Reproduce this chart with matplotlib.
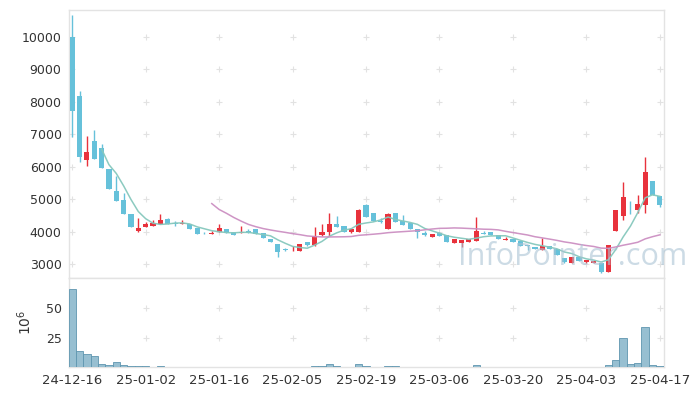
import numpy as np
import pandas as pd
import matplotlib
matplotlib.use("Agg")
import matplotlib.pyplot as plt

# ---- data ----
opens = [10000, 8180, 6190, 6800, 6580, 5930, 5250, 4975, 4550, 4030,
         4150, 4170, 4225, 4390, 4275, 4220, 4225, 4110, 3930, 3925,
         3990, 4080, 4000, 3945, 4020, 4070, 3945, 3770, 3617, 3450,
         3420, 3410, 3680, 3570, 3900, 3985, 4235, 4170, 4000, 4000,
         4820, 4565, 4340, 4080, 4565, 4310, 4270, 4080, 3965, 3830,
         3945, 3895, 3640, 3640, 3690, 3720, 3970, 3990, 3880, 3730,
         3760, 3710, 3590, 3535, 3430, 3555, 3465, 3195, 3045, 3225,
         3070, 3020, 3040, 2760, 4020, 4480, 4800, 4665, 4820, 5560,
         5100]
highs = [10680, 8340, 6930, 7135, 6700, 5930, 5720, 5190, 4550, 4420,
         4300, 4360, 4540, 4420, 4340, 4360, 4225, 4110, 3990, 4030,
         4235, 4080, 4000, 4180, 4080, 4070, 3945, 3770, 3617, 3480,
         3540, 3617, 3680, 4130, 4220, 4565, 4480, 4170, 4090, 4700,
         4850, 4565, 4415, 4560, 4565, 4510, 4270, 4080, 4010, 3925,
         3990, 3895, 3760, 3740, 3770, 4440, 4020, 3990, 3880, 3820,
         3760, 3710, 3590, 3535, 3800, 3555, 3465, 3195, 3225, 3225,
         3135, 3100, 3040, 3575, 4665, 5520, 4930, 5130, 6310, 5560,
         5100]
lows = [6900, 6150, 6030, 6250, 5970, 5320, 4950, 4550, 4150, 4000,
        4150, 4170, 4225, 4225, 4170, 4220, 4090, 3920, 3910, 3925,
        3985, 3945, 3880, 3945, 3945, 3920, 3790, 3680, 3225, 3390,
        3410, 3410, 3565, 3565, 3850, 3850, 4140, 3985, 3940, 4000,
        4440, 4310, 4260, 4080, 4290, 4210, 4085, 3795, 3870, 3830,
        3850, 3690, 3640, 3515, 3690, 3720, 3910, 3880, 3760, 3730,
        3680, 3555, 3430, 3465, 3430, 3470, 3290, 3030, 3045, 3080,
        3040, 3020, 2730, 2760, 4020, 4360, 4540, 4565, 4565, 5130,
        4750]
closes = [7730, 6310, 6460, 6250, 5970, 5320, 4950, 4550, 4150, 4110,
          4220, 4255, 4360, 4225, 4240, 4250, 4090, 3920, 3925, 3945,
          4100, 3950, 3880, 4000, 3945, 3920, 3790, 3680, 3380, 3420,
          3440, 3617, 3570, 3860, 3990, 4235, 4140, 3985, 4090, 4665,
          4440, 4310, 4285, 4535, 4290, 4210, 4085, 3985, 3900, 3925,
          3850, 3690, 3760, 3740, 3770, 4020, 3910, 3880, 3760, 3780,
          3680, 3555, 3540, 3465, 3565, 3470, 3290, 3060, 3225, 3080,
          3135, 3100, 2760, 3575, 4665, 5060, 4780, 4850, 5840, 5130,
          4820]
volumes = [66.3, 13.3, 10.9, 9.8, 2.7, 1.9, 4.3, 1.9, 1.1, 1.0,
           1.0, 0.4, 1.0, 0.3, 0.3, 0.3, 0.3, 0.3, 0.3, 0.3,
           0.3, 0.3, 0.3, 0.3, 0.3, 0.3, 0.3, 0.3, 0.3, 0.3,
           0.3, 0.3, 0.3, 1.0, 1.0, 2.7, 1.0, 0.4, 0.4, 2.4,
           1.0, 0.4, 0.3, 1.0, 1.0, 0.3, 0.3, 0.3, 0.3, 0.3,
           0.3, 0.3, 0.3, 0.3, 0.3, 1.6, 0.3, 0.3, 0.3, 0.3,
           0.3, 0.3, 0.3, 0.3, 0.3, 0.3, 0.3, 0.3, 0.3, 0.3,
           0.3, 0.3, 0.3, 1.9, 6.0, 24.7, 2.7, 3.3, 34.5, 1.9,
           1.0]
tick_labels = ['24-12-16', '25-01-02', '25-01-16', '25-02-05', '25-02-19',
               '25-03-06', '25-03-20', '25-04-03', '25-04-17']
price_ticks = [3000, 4000, 5000, 6000, 7000, 8000, 9000, 10000]
vol_ticks = [25, 50]

# ---- styling ----
UP = '#e8323c'
DOWN = '#66c1da'
MA5_C = '#86c8bd'
MA20_C = '#cc8fc2'
SPINE = '#e3e3e3'
TXT = '#333333'

df = pd.DataFrame({'o': opens, 'h': highs, 'l': lows, 'c': closes, 'v': volumes})
x = np.arange(len(df))
ma5 = df['c'].rolling(5).mean()
ma20 = df['c'].rolling(20).mean()

fig = plt.figure(figsize=(7, 3.96), dpi=100)
ax = fig.add_axes([0.0979, 0.298, 0.850, 0.677])
axv = fig.add_axes([0.0979, 0.0732, 0.850, 0.2248], sharex=ax)

for a in (ax, axv):
    for s in a.spines.values():
        s.set_color(SPINE)
        s.set_linewidth(1.0)
    a.tick_params(length=0, colors=TXT)
    a.tick_params(axis='y', labelsize=9, pad=5)
    a.tick_params(axis='x', labelsize=9.5, pad=5)
    a.set_facecolor('white')

# candles
up = df['c'] >= df['o']
cols = np.where(up, UP, DOWN)
body_lo = np.minimum(df['o'], df['c'])
body_h = np.abs(df['c'] - df['o'])
body_h = np.maximum(body_h, 12)
ax.vlines(x, df['l'], df['h'], colors=cols, linewidth=1.0, zorder=2)
ax.bar(x, body_h, bottom=body_lo, width=0.7, color=cols, linewidth=0, zorder=3)

ax.plot(x, ma5, color=MA5_C, linewidth=1.1, alpha=0.95, zorder=4)
ax.plot(x, ma20, color=MA20_C, linewidth=1.1, alpha=0.95, zorder=4)

ax.set_xlim(-0.5, 80.5)
ax.set_ylim(2568, 10832)
ax.set_yticks(price_ticks)
ax.set_yticklabels([str(t) for t in price_ticks])
ax.tick_params(axis='x', labelbottom=False)

tick_pos = np.arange(0, len(df), 10)
# grid crosses
gx, gy = np.meshgrid(tick_pos, price_ticks)
ax.scatter(gx.ravel(), gy.ravel(), marker='+', s=16, color='#e2e2e2', linewidths=0.8, zorder=1)

# volume
axv.bar(x, df['v'], width=1.0, color='#97bfd1', edgecolor='#5f96b0', linewidth=0.6, zorder=3)
axv.set_ylim(0, 76)
axv.set_yticks(vol_ticks)
axv.set_xticks(tick_pos)
axv.set_xticklabels(tick_labels)
gx2, gy2 = np.meshgrid(tick_pos, vol_ticks)
axv.scatter(gx2.ravel(), gy2.ravel(), marker='+', s=16, color='#e2e2e2', linewidths=0.8, zorder=1)
axv.set_ylabel('$10^{6}$', color=TXT, fontsize=10, labelpad=8)

# watermark
fig.text(0.818, 0.352, 'InfoPointer.com', fontsize=22, color='#aac3d4', alpha=0.6,
         ha='center', va='center', family='Open Sans', zorder=10)

fig.savefig('out.png', dpi=100)
